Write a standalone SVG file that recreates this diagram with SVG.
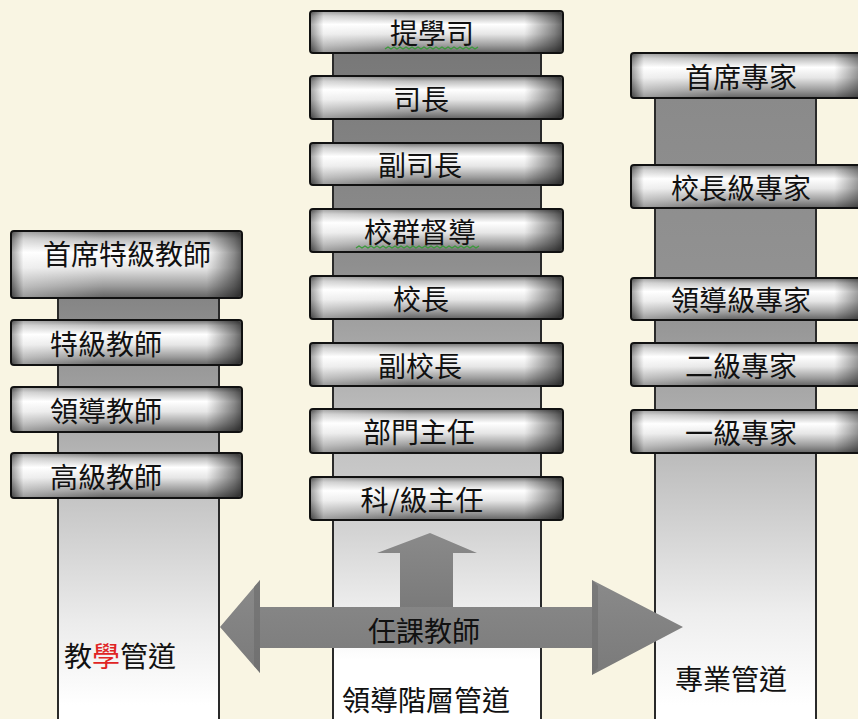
<svg xmlns="http://www.w3.org/2000/svg" width="858" height="719" viewBox="0 0 858 719">
<defs>
<linearGradient id="barV" x1="0" y1="0" x2="0" y2="1">
<stop offset="0" stop-color="#6e6e6e"/>
<stop offset="0.12" stop-color="#bdbdbd"/>
<stop offset="0.32" stop-color="#ffffff"/>
<stop offset="0.55" stop-color="#e6e6e6"/>
<stop offset="0.82" stop-color="#9c9c9c"/>
<stop offset="1" stop-color="#626262"/>
</linearGradient>
<linearGradient id="barH" x1="0" y1="0" x2="1" y2="0">
<stop offset="0" stop-color="#000" stop-opacity="0.35"/>
<stop offset="0.05" stop-color="#fff" stop-opacity="0.35"/>
<stop offset="0.4" stop-color="#fff" stop-opacity="0"/>
<stop offset="0.85" stop-color="#000" stop-opacity="0"/>
<stop offset="0.97" stop-color="#000" stop-opacity="0.45"/>
<stop offset="1" stop-color="#000" stop-opacity="0.6"/>
</linearGradient>
<linearGradient id="colL" gradientUnits="userSpaceOnUse" x1="0" y1="298" x2="0" y2="705">
<stop offset="0" stop-color="#858585"/>
<stop offset="0.3" stop-color="#a8a8a8"/>
<stop offset="0.5" stop-color="#c6c6c6"/>
<stop offset="0.8" stop-color="#ececec"/>
<stop offset="1" stop-color="#ffffff"/>
</linearGradient>
<linearGradient id="colM" gradientUnits="userSpaceOnUse" x1="0" y1="53" x2="0" y2="660">
<stop offset="0" stop-color="#787878"/>
<stop offset="0.35" stop-color="#8f8f8f"/>
<stop offset="0.6" stop-color="#bdbdbd"/>
<stop offset="0.78" stop-color="#d2d2d2"/>
<stop offset="1" stop-color="#ffffff"/>
</linearGradient>
<linearGradient id="colR" gradientUnits="userSpaceOnUse" x1="0" y1="98" x2="0" y2="705">
<stop offset="0" stop-color="#8a8a8a"/>
<stop offset="0.35" stop-color="#939393"/>
<stop offset="0.5" stop-color="#aaaaaa"/>
<stop offset="0.62" stop-color="#c2c2c2"/>
<stop offset="0.85" stop-color="#eeeeee"/>
<stop offset="1" stop-color="#ffffff"/>
</linearGradient>
<linearGradient id="arr" x1="0" y1="0" x2="0" y2="1">
<stop offset="0" stop-color="#8a8a8a"/>
<stop offset="1" stop-color="#7a7a7a"/>
</linearGradient>
</defs>
<style>
.bar{stroke:#111;stroke-width:2}
.sh{fill:url(#barH)}
.t{font-family:"Noto Sans CJK TC","Noto Sans CJK SC",sans-serif;font-size:28px;fill:#111;text-anchor:middle;dominant-baseline:central}
.col{stroke:#2a2a2a;stroke-width:2}
.sq{fill:none;stroke:#3a9a3a;stroke-width:1.3}
</style>
<rect width="858" height="719" fill="#f9f5e3"/>

<g id="columns">
<rect id="col-left" class="col" x="58" y="297" width="161" height="430" fill="url(#colL)"/>
<rect id="col-mid" class="col" x="333" y="52" width="208" height="675" fill="url(#colM)"/>
<rect id="col-right" class="col" x="655" y="97" width="161" height="630" fill="url(#colR)"/>
</g>

<g id="left-track">
<g id="n-l1"><rect class="bar" x="11" y="231" width="231" height="67" rx="3" fill="url(#barV)"/><rect class="sh" x="12" y="232" width="229" height="65" rx="3"/><text class="t" x="127" y="253">首席特級教師</text></g>
<g id="n-l2"><rect class="bar" x="11" y="320" width="231" height="45" rx="3" fill="url(#barV)"/><rect class="sh" x="12" y="321" width="229" height="43" rx="3"/><text class="t" x="106" y="343">特級教師</text></g>
<g id="n-l3"><rect class="bar" x="11" y="387" width="231" height="45" rx="3" fill="url(#barV)"/><rect class="sh" x="12" y="388" width="229" height="43" rx="3"/><text class="t" x="106" y="410">領導教師</text></g>
<g id="n-l4"><rect class="bar" x="11" y="453" width="231" height="45" rx="3" fill="url(#barV)"/><rect class="sh" x="12" y="454" width="229" height="43" rx="3"/><text class="t" x="106" y="476">高級教師</text></g>
</g>

<g id="mid-track">
<g id="n-m1"><rect class="bar" x="310" y="11" width="253" height="42" rx="3" fill="url(#barV)"/><rect class="sh" x="311" y="12" width="251" height="40" rx="3"/><text class="t" x="432" y="32">提學司</text><path class="sq" d="M385 49 l3 -2 l3 2 l3 -2 l3 2 l3 -2 l3 2 l3 -2 l3 2 l3 -2 l3 2 l3 -2 l3 2 l3 -2 l3 2 l3 -2 l3 2 l3 -2 l3 2 l3 -2 l3 2 l3 -2 l3 2 l3 -2 l3 2 l3 -2 l3 2 l3 -2 l3 2 l3 -2 l3 2 l3 -2"/></g>
<g id="n-m2"><rect class="bar" x="310" y="76" width="253" height="43" rx="3" fill="url(#barV)"/><rect class="sh" x="311" y="77" width="251" height="41" rx="3"/><text class="t" x="421" y="98">司長</text></g>
<g id="n-m3"><rect class="bar" x="310" y="143" width="253" height="42" rx="3" fill="url(#barV)"/><rect class="sh" x="311" y="144" width="251" height="40" rx="3"/><text class="t" x="420" y="164">副司長</text></g>
<g id="n-m4"><rect class="bar" x="310" y="209" width="253" height="43" rx="3" fill="url(#barV)"/><rect class="sh" x="311" y="210" width="251" height="41" rx="3"/><text class="t" x="420" y="231">校群督導</text><path class="sq" d="M356 248 l3 -2 l3 2 l3 -2 l3 2 l3 -2 l3 2 l3 -2 l3 2 l3 -2 l3 2 l3 -2 l3 2 l3 -2 l3 2 l3 -2 l3 2 l3 -2 l3 2 l3 -2 l3 2 l3 -2 l3 2 l3 -2 l3 2 l3 -2 l3 2 l3 -2 l3 2 l3 -2 l3 2 l3 -2 l3 2 l3 -2 l3 2 l3 -2 l3 2 l3 -2 l3 2 l3 -2 l3 2 l3 -2"/></g>
<g id="n-m5"><rect class="bar" x="310" y="276" width="253" height="43" rx="3" fill="url(#barV)"/><rect class="sh" x="311" y="277" width="251" height="41" rx="3"/><text class="t" x="421" y="298">校長</text></g>
<g id="n-m6"><rect class="bar" x="310" y="343" width="253" height="43" rx="3" fill="url(#barV)"/><rect class="sh" x="311" y="344" width="251" height="41" rx="3"/><text class="t" x="420" y="365">副校長</text></g>
<g id="n-m7"><rect class="bar" x="310" y="409" width="253" height="44" rx="3" fill="url(#barV)"/><rect class="sh" x="311" y="410" width="251" height="42" rx="3"/><text class="t" x="419" y="431">部門主任</text></g>
<g id="n-m8"><rect class="bar" x="310" y="477" width="253" height="43" rx="3" fill="url(#barV)"/><rect class="sh" x="311" y="478" width="251" height="41" rx="3"/><text class="t" x="422" y="499">科/級主任</text></g>
</g>

<g id="right-track">
<g id="n-r1"><rect class="bar" x="631" y="53" width="240" height="45" rx="3" fill="url(#barV)"/><rect class="sh" x="632" y="54" width="238" height="43" rx="3"/><text class="t" x="741" y="76">首席專家</text></g>
<g id="n-r2"><rect class="bar" x="631" y="165" width="240" height="43" rx="3" fill="url(#barV)"/><rect class="sh" x="632" y="166" width="238" height="41" rx="3"/><text class="t" x="741" y="187">校長級專家</text></g>
<g id="n-r3"><rect class="bar" x="631" y="278" width="240" height="42" rx="3" fill="url(#barV)"/><rect class="sh" x="632" y="279" width="238" height="40" rx="3"/><text class="t" x="741" y="299">領導級專家</text></g>
<g id="n-r4"><rect class="bar" x="631" y="343" width="240" height="43" rx="3" fill="url(#barV)"/><rect class="sh" x="632" y="344" width="238" height="41" rx="3"/><text class="t" x="741" y="365">二級專家</text></g>
<g id="n-r5"><rect class="bar" x="631" y="410" width="240" height="43" rx="3" fill="url(#barV)"/><rect class="sh" x="632" y="411" width="238" height="41" rx="3"/><text class="t" x="741" y="432">一級專家</text></g>
</g>

<g id="connectors">
<path id="arrow-up" d="M400 608 L400 553 L377 553 L430 533 L477 553 L453 553 L453 608 Z" fill="url(#arr)"/>
<path id="arrow-h" d="M220 627 L260 580 L260 607 L592 607 L592 580 L683 627 L592 675 L592 648 L260 648 L260 673 Z" fill="url(#arr)"/>
<path d="M260 580 L260 673 L254 666 L254 587 Z" fill="#6a6a6a" opacity="0.6"/>
<path d="M592 580 L592 675 L598 668 L598 586 Z" fill="#6a6a6a" opacity="0.5"/>
</g>

<g id="labels">
<text class="t" x="424" y="630">任課教師</text>
<text class="t" x="120" y="655">教<tspan fill="#e02424">學</tspan>管道</text>
<text class="t" x="426" y="699">領導階層管道</text>
<text class="t" x="731" y="678">專業管道</text>
</g>
</svg>
